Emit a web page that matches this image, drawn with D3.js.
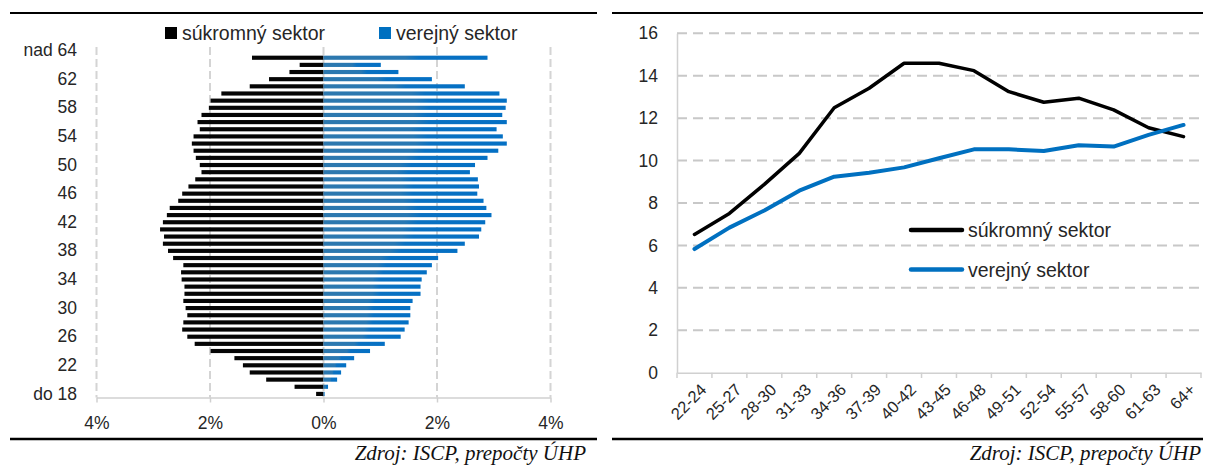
<!DOCTYPE html>
<html>
<head>
<meta charset="utf-8">
<script src="https://cdn.jsdelivr.net/npm/d3@7"></script>
<style>
body { margin: 0; background: #fff; }
text { font-family: "Liberation Sans", Arial, sans-serif; fill: #262626; }
.src { font-family: "Liberation Serif", "Times New Roman", serif; font-style: italic; fill: #111; }
</style>
</head>
<body>
<svg id="chart" width="1209" height="466"></svg>
<script>
// vekové kategórie (zdola nahor), posledná bez hodnoty
var ages = ["do 18","19","20","21","22","23","24","25","26","27","28","29","30","31","32","33",
            "34","35","36","37","38","39","40","41","42","43","44","45","46","47","48","49",
            "50","51","52","53","54","55","56","57","58","59","60","61","62","63","64","65","nad 64"];
var ageTicks = ["do 18","22","26","30","34","38","42","46","50","54","58","62","nad 64"];

// podiel zamestnancov v %
var privateShare = [0.13,0.51,1.01,1.30,1.42,1.57,1.99,2.27,2.40,2.49,2.47,2.40,2.43,2.47,2.45,2.45,
                    2.50,2.51,2.47,2.65,2.74,2.83,2.81,2.88,2.83,2.76,2.71,2.56,2.49,2.38,2.26,2.15,
                    2.18,2.25,2.29,2.32,2.29,2.18,2.22,2.15,2.02,1.99,1.80,1.30,0.96,0.60,0.42,1.26,null];
var publicShare  = [0.02,0.08,0.24,0.31,0.40,0.54,0.82,1.08,1.36,1.43,1.50,1.53,1.53,1.57,1.71,1.71,
                    1.73,1.82,1.91,2.02,2.36,2.49,2.74,2.78,2.85,2.96,2.87,2.82,2.71,2.74,2.72,2.58,
                    2.67,2.89,3.08,3.23,3.16,3.05,3.23,3.15,3.21,3.23,3.10,2.49,1.91,1.32,1.01,2.89,null];
var pctTicks = [-4, -2, 0, 2, 4];

// pravý graf - vekové skupiny
var groups = ["22-24","25-27","28-30","31-33","34-36","37-39","40-42","43-45","46-48","49-51",
              "52-54","55-57","58-60","61-63","64+"];
var privateLine = [6.52,7.51,8.88,10.34,12.49,13.41,14.59,14.59,14.24,13.25,12.75,12.94,12.39,11.55,11.13];
var publicLine  = [5.83,6.84,7.65,8.58,9.24,9.43,9.68,10.11,10.53,10.53,10.45,10.72,10.66,11.21,11.68];
var yTicks = [0,2,4,6,8,10,12,14,16];

var seriesNames = ["súkromný sektor", "verejný sektor"];
var black = "#000000", blue = "#0070c0", grid = "#c8c8c8";

var svg = d3.select("#chart");
svg.append("rect").attr("width", 1209).attr("height", 466).attr("fill", "#fff");

var defs = svg.append("defs");
var grad = defs.append("linearGradient").attr("id", "blueBar")
    .attr("x1", 0).attr("x2", 1).attr("y1", 0).attr("y2", 0);
grad.append("stop").attr("offset", 0).attr("stop-color", "#2d78ae");
grad.append("stop").attr("offset", 0.5).attr("stop-color", "#2878b3");
grad.append("stop").attr("offset", 0.58).attr("stop-color", "#0a71c1");
grad.append("stop").attr("offset", 1).attr("stop-color", "#0470c4");

// rámové čiary a zdroj
[[10, 597], [612, 1203]].forEach(function(p) {
    svg.append("line").attr("x1", p[0]).attr("x2", p[1]).attr("y1", 13).attr("y2", 13)
       .attr("stroke", "#000").attr("stroke-width", 2);
    svg.append("line").attr("x1", p[0]).attr("x2", p[1]).attr("y1", 439).attr("y2", 439)
       .attr("stroke", "#000").attr("stroke-width", 2.5);
});
svg.append("text").attr("class", "src").attr("x", 586).attr("y", 460)
   .attr("text-anchor", "end").style("font-size", "21px").text("Zdroj: ISCP, prepočty ÚHP");
svg.append("text").attr("class", "src").attr("x", 1201).attr("y", 460)
   .attr("text-anchor", "end").style("font-size", "21px").text("Zdroj: ISCP, prepočty ÚHP");

/* ---------- ľavý graf: veková pyramída ---------- */
var x = d3.scaleLinear().domain([-4, 4]).range([96.5, 550.5]);
var y = d3.scaleBand().domain(ages).range([397.5, 47]).paddingInner(0.42).paddingOuter(0.21);

var left = svg.append("g");

left.selectAll(".vgrid").data(pctTicks).enter().append("line")
    .attr("class", "vgrid")
    .attr("x1", function(d) { return x(d); }).attr("x2", function(d) { return x(d); })
    .attr("y1", 47).attr("y2", 397.5)
    .attr("stroke", "#d4d4d4").attr("stroke-width", 2).attr("stroke-dasharray", "8,4");

left.selectAll(".priv").data(privateShare).enter()
    .append("rect")
    .filter(function(d) { return d != null; })
    .attr("class", "priv")
    .attr("x", function(d) { return x(-d); })
    .attr("y", function(d, i) { return y(ages[i]); })
    .attr("width", function(d) { return x(0) - x(-d); })
    .attr("height", y.bandwidth())
    .attr("fill", "#050505");

left.selectAll(".pub").data(publicShare).enter()
    .append("rect")
    .filter(function(d) { return d != null; })
    .attr("class", "pub")
    .attr("x", x(0))
    .attr("y", function(d, i) { return y(ages[i]); })
    .attr("width", function(d) { return x(d) - x(0); })
    .attr("height", y.bandwidth())
    .attr("fill", "url(#blueBar)");

var xAxisL = left.append("g").attr("transform", "translate(0,397.5)")
    .call(d3.axisBottom(x).tickValues(pctTicks).tickSize(5).tickSizeOuter(0).tickPadding(14)
          .tickFormat(function(d) { return Math.abs(d) + "%"; }));
xAxisL.select(".domain").attr("stroke", "#d0d0d0").attr("stroke-width", 1.5);
xAxisL.selectAll(".tick line").attr("stroke", "#d0d0d0").attr("stroke-width", 1.5);
xAxisL.selectAll("text").style("font-size", "17.5px").attr("fill", "#262626");

var yAxisL = left.append("g").attr("transform", "translate(77,0)")
    .call(d3.axisLeft(y).tickValues(ageTicks).tickSize(0).tickPadding(0));
yAxisL.select(".domain").remove();
yAxisL.selectAll("text").style("font-size", "17.5px").attr("fill", "#262626");

// legenda
var legL = left.append("g");
legL.append("rect").attr("x", 165).attr("y", 27).attr("width", 12).attr("height", 12).attr("fill", black);
legL.append("text").attr("x", 182).attr("y", 39.5).style("font-size", "19.5px").text(seriesNames[0]);
legL.append("rect").attr("x", 379).attr("y", 27).attr("width", 12).attr("height", 12).attr("fill", blue);
legL.append("text").attr("x", 396).attr("y", 39.5).style("font-size", "19.5px").text(seriesNames[1]);

/* ---------- pravý graf: čiary ---------- */
var xr = d3.scaleBand().domain(groups).range([677, 1201]);
var yr = d3.scaleLinear().domain([0, 16]).range([372.7, 33.3]);

var right = svg.append("g");

right.selectAll(".hgrid").data(yTicks.slice(1)).enter().append("line")
    .attr("class", "hgrid")
    .attr("x1", 677).attr("x2", 1201)
    .attr("y1", function(d) { return yr(d); }).attr("y2", function(d) { return yr(d); })
    .attr("stroke", grid).attr("stroke-width", 2).attr("stroke-dasharray", "10,6");

var yAxisR = right.append("g").attr("transform", "translate(677,0)")
    .call(d3.axisLeft(yr).tickValues(yTicks).tickSize(0).tickPadding(19));
yAxisR.select(".domain").attr("stroke", "#d0d0d0").attr("stroke-width", 1.5);
yAxisR.selectAll("text").style("font-size", "17.5px").attr("fill", "#262626");

var xAxisR = right.append("g").attr("transform", "translate(0,372.7)")
    .call(d3.axisBottom(xr).tickSize(0).tickSizeOuter(0));
xAxisR.select(".domain").attr("stroke", "#d0d0d0").attr("stroke-width", 1.5);
xAxisR.selectAll("text")
    .style("font-size", "16.5px").attr("fill", "#262626")
    .attr("text-anchor", "end")
    .attr("x", 0).attr("y", 0).attr("dy", "0.35em")
    .attr("transform", "translate(9,14) rotate(-45)");

// značky na hraniciach kategórií
right.selectAll(".btick").data(groups.concat(["end"])).enter().append("line")
    .attr("class", "btick")
    .attr("x1", function(d) { return d == "end" ? xr.range()[1] : xr(d); })
    .attr("x2", function(d) { return d == "end" ? xr.range()[1] : xr(d); })
    .attr("y1", 372.7).attr("y2", 378)
    .attr("stroke", "#d0d0d0").attr("stroke-width", 1.5);

var line = d3.line()
    .x(function(d, i) { return xr(groups[i]) + xr.bandwidth() / 2; })
    .y(function(d) { return yr(d); });

right.append("path").datum(privateLine).attr("d", line)
    .attr("fill", "none").attr("stroke", black).attr("stroke-width", 3.5)
    .attr("stroke-linejoin", "round").attr("stroke-linecap", "round");
right.append("path").datum(publicLine).attr("d", line)
    .attr("fill", "none").attr("stroke", blue).attr("stroke-width", 4)
    .attr("stroke-linejoin", "round").attr("stroke-linecap", "round");

// legenda
var legR = right.append("g");
[[black, 230, seriesNames[0]], [blue, 269.5, seriesNames[1]]].forEach(function(l) {
    legR.append("line").attr("x1", 911).attr("x2", 962).attr("y1", l[1]).attr("y2", l[1])
        .attr("stroke", l[0]).attr("stroke-width", 4.5).attr("stroke-linecap", "round");
    legR.append("text").attr("x", 968).attr("y", l[1]).attr("dy", "0.36em")
        .style("font-size", "19.5px").text(l[2]);
});
</script>
</body>
</html>
